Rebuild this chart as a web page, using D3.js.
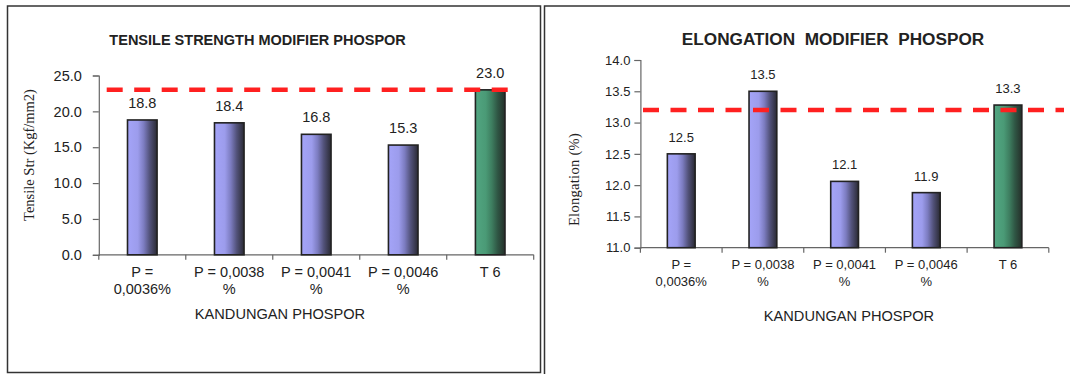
<!DOCTYPE html>
<html><head><meta charset="utf-8">
<script src="https://cdn.jsdelivr.net/npm/d3@7"></script>
<style>
html,body{margin:0;padding:0;background:#fff;}
svg{display:block;}
text{font-family:"Liberation Sans",Arial,sans-serif;fill:#222;}
</style></head>
<body>
<svg id="c" width="1070" height="374"></svg>
<script>
// ---- data ----
const categories = ["P = 0,0036%", "P = 0,0038 %", "P = 0,0041 %", "P = 0,0046 %", "T 6"];
const categoryLines = [["P =", "0,0036%"], ["P = 0,0038", "%"], ["P = 0,0041", "%"], ["P = 0,0046", "%"], ["T 6"]];
const tensileValues = [18.8, 18.4, 16.8, 15.3, 23.0];
const tensileRef = 23.0;
const tensileTicks = [0, 5, 10, 15, 20, 25];
const elongationValues = [12.5, 13.5, 12.06, 11.88, 13.28];
const elongationRef = 13.2;
const elongationTicks = [11.0, 11.5, 12.0, 12.5, 13.0, 13.5, 14.0];
const barKind = ["p", "p", "p", "p", "t"];

const svg = d3.select("#c");
const defs = svg.append("defs");
function grad(id, stops) {
  const g = defs.append("linearGradient").attr("id", id).attr("x1", "0%").attr("x2", "100%").attr("y1", "0%").attr("y2", "0%");
  stops.forEach(s => g.append("stop").attr("offset", s[0]).attr("stop-color", s[1]));
}
grad("gp", [["0%", "#a4a4f8"], ["35%", "#9c9cec"], ["55%", "#7c7cc0"], ["75%", "#52527a"], ["100%", "#2a2a34"]]);
grad("gt", [["0%", "#52a682"], ["35%", "#4a9a76"], ["55%", "#3e7e60"], ["75%", "#2f5644"], ["100%", "#25302a"]]);

// panel borders
svg.append("rect").attr("x", 7.5).attr("y", 6).attr("width", 533).attr("height", 366.5)
  .attr("fill", "none").attr("stroke", "#333").attr("stroke-width", 1.5);
svg.append("rect").attr("x", 544.5).attr("y", 6).attr("width", 540).attr("height", 380)
  .attr("fill", "none").attr("stroke", "#333").attr("stroke-width", 1.5);

function chart(o) {
  const g = svg.append("g");
  const x = d3.scaleBand().domain(categories).range([o.x0, o.x1]).paddingInner(0.66).paddingOuter(0.33);
  const y = d3.scaleLinear().domain(o.domain).range([o.y0, o.y1]);

  // title
  g.append("text").attr("x", o.titleX).attr("y", 45).attr("text-anchor", "middle")
    .style("font-weight", "bold").style("font-size", o.titleSize + "px").attr("xml:space", "preserve")
    .text(o.title);

  // y axis
  const ya = g.append("g").attr("transform", `translate(${o.x0},0)`)
    .call(d3.axisLeft(y).tickValues(o.ticks).tickFormat(d3.format(".1f")).tickSize(6).tickPadding(o.tickPad));
  ya.select(".domain").attr("stroke", "#666").attr("stroke-width", 1.2);
  ya.selectAll(".tick line").attr("stroke", "#666").attr("stroke-width", 1.2);
  ya.selectAll(".tick text").style("font-size", o.fs + "px").style("font-family", "'Liberation Sans',Arial,sans-serif").attr("fill", "#222");

  // x axis line + boundary ticks
  g.append("line").attr("x1", o.x0).attr("x2", o.x1).attr("y1", o.y0).attr("y2", o.y0)
    .attr("stroke", "#666").attr("stroke-width", 1.2);
  const bounds = categories.map((c, i) => o.x0 + i * x.step()).concat([o.x1]);
  g.selectAll(".xt").data(bounds).enter().append("line")
    .attr("x1", d => d).attr("x2", d => d).attr("y1", o.y0).attr("y2", o.y0 + 5)
    .attr("stroke", "#666").attr("stroke-width", 1.2);

  // bars
  g.selectAll(".bar").data(o.values).enter().append("rect")
    .attr("x", (d, i) => x(categories[i]))
    .attr("y", d => y(d))
    .attr("width", x.bandwidth())
    .attr("height", d => y(o.domain[0]) - y(d))
    .attr("fill", (d, i) => barKind[i] === "t" ? "url(#gt)" : "url(#gp)")
    .attr("stroke", "#222").attr("stroke-width", 1.6);

  // value labels
  g.selectAll(".vl").data(o.values).enter().append("text")
    .attr("x", (d, i) => x(categories[i]) + x.bandwidth() / 2)
    .attr("y", d => y(d) - 12)
    .attr("text-anchor", "middle").style("font-size", o.fs + "px")
    .text(d => d3.format(".1f")(d));

  // reference dashed line
  g.append("line").attr("x1", o.refX0).attr("x2", o.refX1).attr("y1", y(o.ref)).attr("y2", y(o.ref))
    .attr("stroke", "#ff2020").attr("stroke-width", 4.5).attr("stroke-dasharray", "16,11.5");

  // category labels
  categoryLines.forEach((lines, i) => {
    const cx = x(categories[i]) + x.bandwidth() / 2;
    lines.forEach((ln, j) => {
      g.append("text").attr("x", cx).attr("y", o.catY + j * o.catDy).attr("text-anchor", "middle")
        .style("font-size", o.fs + "px").text(ln);
    });
  });

  // x title
  g.append("text").attr("x", o.xTitleX).attr("y", o.xTitleY).attr("text-anchor", "middle")
    .style("font-size", "14.6px").text("KANDUNGAN PHOSPOR");

  // y title
  g.append("text").attr("transform", `translate(${o.yTitleX},${o.yTitleY}) rotate(-90)`)
    .attr("text-anchor", "middle").style("font-family", "'Liberation Serif','Times New Roman',serif")
    .style("font-size", "14.5px").style("letter-spacing", o.yLs).text(o.yTitle);
}

chart({
  x0: 98.8, x1: 533.7, y0: 254.8, y1: 75.5, domain: [0, 25], ticks: tensileTicks,
  values: tensileValues, ref: tensileRef, refX0: 106.7, refX1: 514.8,
  title: "TENSILE STRENGTH MODIFIER PHOSPOR", titleX: 257.6, titleSize: 14.5,
  fs: 14.5, tickPad: 11, catY: 277, catDy: 17,
  xTitleX: 280, xTitleY: 319, yTitle: "Tensile Str (Kgf/mm2)", yTitleX: 34, yTitleY: 155, yLs: "0px"
});

chart({
  x0: 640.4, x1: 1048.8, y0: 247.7, y1: 60, domain: [11, 14], ticks: elongationTicks,
  values: elongationValues, ref: elongationRef, refX0: 643, refX1: 1064,
  title: "ELONGATION  MODIFIER  PHOSPOR", titleX: 833, titleSize: 17.2,
  fs: 13, tickPad: 4, catY: 268.8, catDy: 17.5,
  xTitleX: 849, xTitleY: 320.5, yTitle: "Elongation (%)", yTitleX: 579, yTitleY: 179.5, yLs: "0.3px"
});
</script>
</body></html>
